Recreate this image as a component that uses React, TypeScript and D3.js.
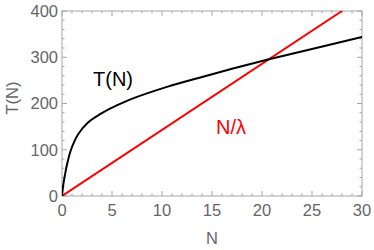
import React from "react";
import * as d3 from "d3";

// T(N) curve
const curveN = [0, 0.1, 0.2, 0.3, 0.5, 0.9, 1.6, 2.6, 3.9, 4.8, 5.6, 7.1, 10.5, 14.1, 17, 20.6, 25, 30];
const curveT = [0, 20, 34, 46, 68, 100, 133, 159, 178, 189, 197, 211, 236, 258, 275, 295, 318, 344];

// N/lambda line (straight, two ends)
const lineN = [0, 28];
const lineT = [0, 400];

const xMajor = [0, 5, 10, 15, 20, 25, 30];
const yMajor = [0, 100, 200, 300, 400];
const xMinor = d3.range(0, 31, 1);
const yMinor = d3.range(0, 401, 20);

const W = 374;
const H = 250;
const left = 62;
const right = 362;
const top = 11;
const bottom = 196;

const font = "'Liberation Sans', Arial, sans-serif";
const frameColor = "#a6a6a6";
const labelColor = "#666666";

export default function App() {
  const x = d3.scaleLinear().domain([0, 30]).range([left, right]);
  const y = d3.scaleLinear().domain([0, 400]).range([bottom, top]);

  const curve = curveN.map((n, i) => [n, curveT[i]] as [number, number]);
  const line = lineN.map((n, i) => [n, lineT[i]] as [number, number]);

  const path = d3
    .line<[number, number]>()
    .x((d) => x(d[0]))
    .y((d) => y(d[1]))
    .curve(d3.curveCatmullRom.alpha(0.5));

  const ticks: JSX.Element[] = [];
  xMinor.forEach((v) => {
    const len = v % 5 === 0 ? 5 : 2.5;
    ticks.push(<line key={"xb" + v} x1={x(v)} x2={x(v)} y1={bottom} y2={bottom - len} />);
    ticks.push(<line key={"xt" + v} x1={x(v)} x2={x(v)} y1={top} y2={top + len} />);
  });
  yMinor.forEach((v) => {
    const len = v % 100 === 0 ? 5 : 2.5;
    ticks.push(<line key={"yl" + v} x1={left} x2={left + len} y1={y(v)} y2={y(v)} />);
    ticks.push(<line key={"yr" + v} x1={right} x2={right - len} y1={y(v)} y2={y(v)} />);
  });

  return (
    <svg
      width={W}
      height={H}
      style={{ position: "absolute", left: 0, top: 0, background: "#fff" }}
      fontFamily={font}
    >
      <defs>
        <clipPath id="plot">
          <rect x={left} y={top} width={right - left} height={bottom - top} />
        </clipPath>
      </defs>

      <g stroke={frameColor} strokeWidth={1}>
        {ticks}
        <rect x={left} y={top} width={right - left} height={bottom - top} fill="none" />
      </g>

      <g clipPath="url(#plot)" fill="none" strokeWidth={2} strokeLinecap="round">
        <path d={path(line) || ""} stroke="#ff0000" />
        <path d={path(curve) || ""} stroke="#000" />
      </g>

      <g fill={labelColor} fontSize={16.5}>
        {xMajor.map((v) => (
          <text key={"xl" + v} x={x(v)} y={216} textAnchor="middle">
            {v}
          </text>
        ))}
        {yMajor.map((v) => (
          <text key={"yl" + v} x={left - 4} y={y(v)} dy="0.36em" textAnchor="end">
            {v}
          </text>
        ))}
        <text x={212} y={243.5} textAnchor="middle">
          N
        </text>
        <text transform={`translate(18,98) rotate(-90)`} textAnchor="middle">
          T(N)
        </text>
      </g>

      <text x={93} y={86} fontSize={20} fill="#000">
        T(N)
      </text>
      <text x={216} y={134} fontSize={20} fill="#ff0000">
        N/λ
      </text>
    </svg>
  );
}
